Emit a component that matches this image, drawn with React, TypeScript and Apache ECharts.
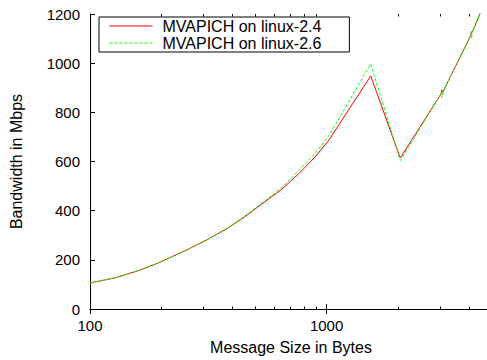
import React, { useEffect, useRef } from "react";
import * as echarts from "echarts";

const seriesNames = ["MVAPICH on linux-2.4", "MVAPICH on linux-2.6"];
const sizes24 = [100, 128, 160, 192, 256, 320, 384, 448, 512, 640, 768, 896, 1024, 1536, 2048, 3040, 3072, 3104, 4064, 4096, 4128, 6144];
const bw24 = [106, 127, 156, 185, 240, 287, 330, 373, 415, 484, 553, 620, 688, 948, 614, 874, 890, 884, 1112, 1128, 1126, 1525];
const sizes26 = [100, 128, 160, 192, 256, 320, 384, 448, 512, 640, 768, 896, 1024, 1536, 2048, 3040, 3072, 3104, 4064, 4096, 4128, 6144];
const bw26 = [106, 127, 156, 185, 240, 288, 332, 376, 418, 490, 566, 634, 706, 997, 604, 874, 860, 884, 1112, 1100, 1126, 1525];
const minorTicks = [200, 300, 400, 500, 600, 700, 800, 900, 2000, 3000, 4000];
const xMin = 100;
const xMax = 5000;
const yMin = 0;
const yMax = 1200;
const yStep = 200;

const FONT = "'Liberation Sans', Arial, Helvetica, sans-serif";

export default function App() {
  const ref = useRef<HTMLDivElement>(null);
  useEffect(() => {
    document.body.style.margin = "0";
    const chart = echarts.init(ref.current!, null, { renderer: "svg" });
    const pairs = (xs: number[], ys: number[]) => xs.map((x, i) => [x, ys[i]]);
    const axisLine = { show: true, lineStyle: { color: "#000", width: 1 } };
    const isPow10 = (v: number) => Math.abs(Math.log10(v) - Math.round(Math.log10(v))) < 1e-6;
    chart.setOption({
      animation: false,
      backgroundColor: "#fff",
      textStyle: { fontFamily: FONT },
      grid: { left: 90, right: 0, top: 14, bottom: 50.5, containLabel: false },
      legend: {
        data: seriesNames,
        orient: "vertical",
        left: 99,
        top: 17,
        padding: [1, 28, 1, 10],
        itemGap: 1,
        itemWidth: 43,
        itemHeight: 14,
        borderColor: "#000",
        borderWidth: 1,
        itemStyle: { opacity: 0 },
        lineStyle: { width: 1 },
        textStyle: { fontSize: 16, color: "#000", fontFamily: FONT, padding: [0, 0, 0, 5] },
      },
      xAxis: [
        {
          type: "log",
          min: xMin,
          max: xMax,
          logBase: 10,
          position: "bottom",
          axisLine,
          axisTick: { show: true, inside: true, length: 5, lineStyle: { color: "#000" } },
          axisLabel: {
            fontSize: 15,
            color: "#000",
            fontFamily: FONT,
            margin: 9,
            showMaxLabel: false,
            formatter: (v: number) => (isPow10(v) ? String(Math.round(v)) : ""),
          },
          splitLine: { show: false },
          name: "Message Size in Bytes",
          nameLocation: "middle",
          nameGap: 30,
          nameTextStyle: { fontSize: 16, color: "#000", fontFamily: FONT },
        },
        {
          type: "log",
          min: xMin,
          max: xMax,
          logBase: 10,
          position: "top",
          axisLine,
          axisTick: { show: true, inside: true, length: 5, lineStyle: { color: "#000" } },
          axisLabel: { show: false },
          splitLine: { show: false },
        },
      ],
      yAxis: [
        {
          type: "value",
          min: yMin,
          max: yMax,
          interval: yStep,
          position: "left",
          axisLine,
          axisTick: { show: true, inside: true, length: 5, lineStyle: { color: "#000" } },
          axisLabel: { fontSize: 15, color: "#000", fontFamily: FONT, margin: 10, formatter: (v: number) => String(v) },
          splitLine: { show: false },
          name: "Bandwidth in Mbps",
          nameLocation: "middle",
          nameGap: 66,
          nameTextStyle: { fontSize: 16, color: "#000", fontFamily: FONT },
        },
        {
          type: "value",
          min: yMin,
          max: yMax,
          interval: yStep,
          position: "right",
          axisLine,
          axisTick: { show: true, inside: true, length: 5, lineStyle: { color: "#000" } },
          axisLabel: { show: false },
          splitLine: { show: false },
        },
      ],
      series: [
        {
          name: seriesNames[0],
          type: "line",
          data: pairs(sizes24, bw24),
          symbol: "none",
          showSymbol: false,
          clip: true,
          color: "#ff0000",
          lineStyle: { color: "#ff0000", width: 1 },
          z: 3,
        },
        {
          name: seriesNames[1],
          type: "line",
          data: pairs(sizes26, bw26),
          symbol: "none",
          showSymbol: false,
          clip: true,
          color: "#00ff00",
          lineStyle: { color: "#00ff00", width: 1, type: [3, 2] },
          z: 4,
        },
        {
          name: "minorTicks",
          type: "custom",
          data: minorTicks.map((x) => [x, yMin]),
          silent: true,
          z: 5,
          renderItem: (params: any, api: any) => {
            const x = api.value(0);
            const b = api.coord([x, yMin]);
            const t = api.coord([x, yMax]);
            const px = Math.round(b[0]) + 0.5;
            return {
              type: "group",
              children: [
                { type: "line", shape: { x1: px, y1: b[1], x2: px, y2: b[1] - 2.5 }, style: { stroke: "#000", lineWidth: 1 } },
                { type: "line", shape: { x1: px, y1: t[1], x2: px, y2: t[1] + 2.5 }, style: { stroke: "#000", lineWidth: 1 } },
              ],
            };
          },
        },
      ],
    });
    return () => chart.dispose();
  }, []);
  return (
    <div style={{ position: "absolute", left: 0, top: 0, width: 487, height: 360, overflow: "hidden" }}>
      <div ref={ref} style={{ position: "absolute", left: 0, top: 0, width: 492, height: 360 }} />
    </div>
  );
}
